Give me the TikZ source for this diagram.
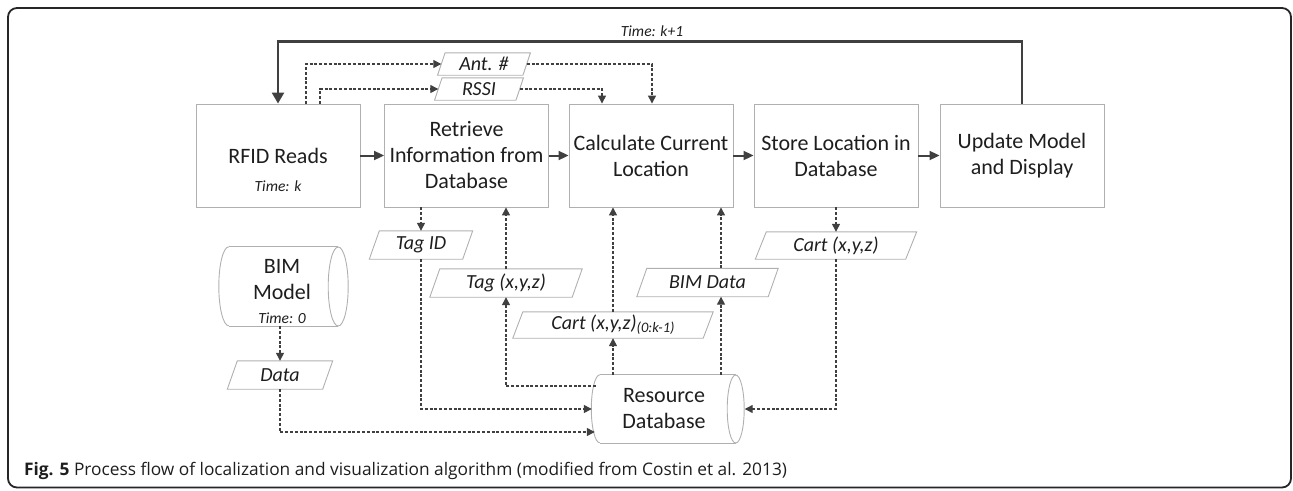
\documentclass[tikz,border=0pt]{standalone}
\usepackage{fontspec}
\setmainfont{Carlito}
\newfontfamily\capfont{Open Sans}
\usetikzlibrary{arrows.meta}
\definecolor{ln}{HTML}{404040}
\definecolor{bx}{HTML}{B0B0B0}
\definecolor{tx}{HTML}{1E1E1E}
\newcommand\paral[7]{%
  \node[plab,minimum width=#4pt,minimum height=#5pt] (#1) at (#2,#3) {#7};
  \draw[pline] ([xshift=#6pt]#1.north west) -- ([xshift=#6pt]#1.north east)
    -- ([xshift=-#6pt]#1.south east) -- ([xshift=-#6pt]#1.south west) -- cycle;}
\newcommand\cylin[2]{%
  \draw[pline] (#1.north west) -- (#1.north east);
  \draw[pline] (#1.south west) -- (#1.south east);
  \draw[pline] (#1.east) ellipse [x radius=#2pt, y radius=0.5*\cylh];
  \draw[pline] (#1.north west) arc[start angle=90, end angle=270, x radius=#2pt, y radius=0.5*\cylh];}
\begin{document}
\begin{tikzpicture}[x=1pt,y=-1pt,
  proc/.style={draw=bx, line width=0.9pt, minimum width=164pt, minimum height=103pt,
    inner sep=0pt, align=center, font=\fontsize{22}{26}\selectfont, text=tx},
  small/.style={inner sep=0pt, font=\fontsize{15.5}{18}\selectfont\itshape, text=tx},
  plab/.style={inner sep=0pt, font=\fontsize{20}{22}\selectfont\itshape, text=tx},
  pline/.style={draw=bx, line width=0.9pt},
  cyltext/.style={inner sep=0pt, align=center, font=\fontsize{22}{26}\selectfont, text=tx},
  flow/.style={draw=ln, line width=2pt, -{Triangle[length=10pt,width=9pt]}},
  fb/.style={draw=ln, line width=2.4pt, -{Triangle[length=11pt,width=12pt]}},
  dat/.style={draw=ln, line width=1.3pt, dash pattern=on 3pt off 1.8pt, -{Triangle[length=8pt,width=8pt]}},
]
\useasboundingbox (0,0) rectangle (1293,490);
\draw[line width=1.8pt, black!85, rounded corners=9pt] (8,8) rectangle (1291,487.5);

% process boxes
\node[proc] (rfid) at (278,155.5) {RFID Reads};
\node[small] (tk) at (278,186) {Time: k};
\node[proc] (ret) at (466.5,155.5) {Retrieve\\Information from\\Database};
\node[proc] (calc) at (651,155.5) {Calculate Current\\Location};
\node[proc] (sto) at (836,155.5) {Store Location in\\Database};
\node[proc] (upd) at (1022,155.5) {Update Model\\and Display};

% data parallelograms
\paral{ant}{484}{64}{85}{22}{3.75}{Ant. \#}
\paral{rssi}{479}{89}{81}{22}{3.75}{RSSI}
\paral{tagid}{421}{245}{93}{28}{5}{Tag ID}
\paral{tagxyz}{506}{283}{142}{28}{5}{Tag (x,y,z)}
\paral{cartk}{613}{325}{190}{26}{5}{Cart (x,y,z)\raisebox{-0.35ex}{\fontsize{14.5}{14}\selectfont(0:k-1)}}
\paral{bimd}{707.5}{282.5}{131}{28}{5}{BIM Data}
\paral{cart2}{836}{245.5}{150}{27}{5.5}{Cart (x,y,z)}
\paral{data}{280}{375}{95}{28}{5}{Data}

% cylinders
\def\cylh{68pt}
\node[minimum width=135.5pt, minimum height=68pt, inner sep=0pt] (db) at (667.75,409) {};
\cylin{db}{8.5}
\node[cyltext] (dbt) at (664,409) {Resource\\Database};
\def\cylh{79pt}
\node[minimum width=109pt, minimum height=79pt, inner sep=0pt] (bim) at (283.5,286.5) {};
\cylin{bim}{10}
\node[cyltext] (bimt) at (282,280) {BIM\\Model};
\node[small] (t0) at (282,318) {Time: 0};

% main flow
\draw[flow] (rfid) -- (ret);
\draw[flow] (ret) -- (calc);
\draw[flow] (calc) -- (sto);
\draw[flow] (sto) -- (upd);
\draw[fb] (upd.north) -- ++(0,-62) -| (rfid.north);
\node[small] (tk1) at (652,31) {Time: k+1};

% top data
\draw[dat] ([xshift=28pt]rfid.north) |- (ant.west);
\draw[dat] ([xshift=42pt]rfid.north) |- (rssi.west);
\draw[dat] (ant.east) -| ([xshift=1pt]calc.north);
\draw[dat] (rssi.east) -| ([xshift=-49pt]calc.north);

% lower data
\coordinate (xc) at (613,0);
\coordinate (xb) at (721,0);
\draw[dat] (ret.south -| tagid.north) -- (tagid.north);
\draw[dat] (tagid.south) |- ([xshift=-8pt]db.west);
\draw[dat] ([xshift=-4pt,yshift=23pt]db.west) -| (tagxyz.south);
\draw[dat] (tagxyz.north) -- (tagxyz.north |- ret.south);
\draw[dat] (xc |- db.north) -- (xc |- cartk.south);
\draw[dat] (xc |- cartk.north) -- (xc |- calc.south);
\draw[dat] (xb |- db.north) -- (xb |- bimd.south);
\draw[dat] (xb |- bimd.north) -- (xb |- calc.south);
\draw[dat] (sto.south -| cart2.north) -- (cart2.north);
\draw[dat] (cart2.south) |- ([xshift=9pt]db.east);
\draw[dat] (bim.south -| data.north) -- (data.north);
\draw[dat] (data.south) |- ([xshift=-5pt,yshift=-23pt]db.west);

% caption
\node[anchor=base west, inner sep=0pt, text=tx, font=\capfont\fontsize{17.3}{20}\selectfont] (cap) at (24,475)
  {\textbf{Fig. 5} Process flow of localization and visualization algorithm (modified from Costin et al. 2013)};
\end{tikzpicture}
\end{document}
